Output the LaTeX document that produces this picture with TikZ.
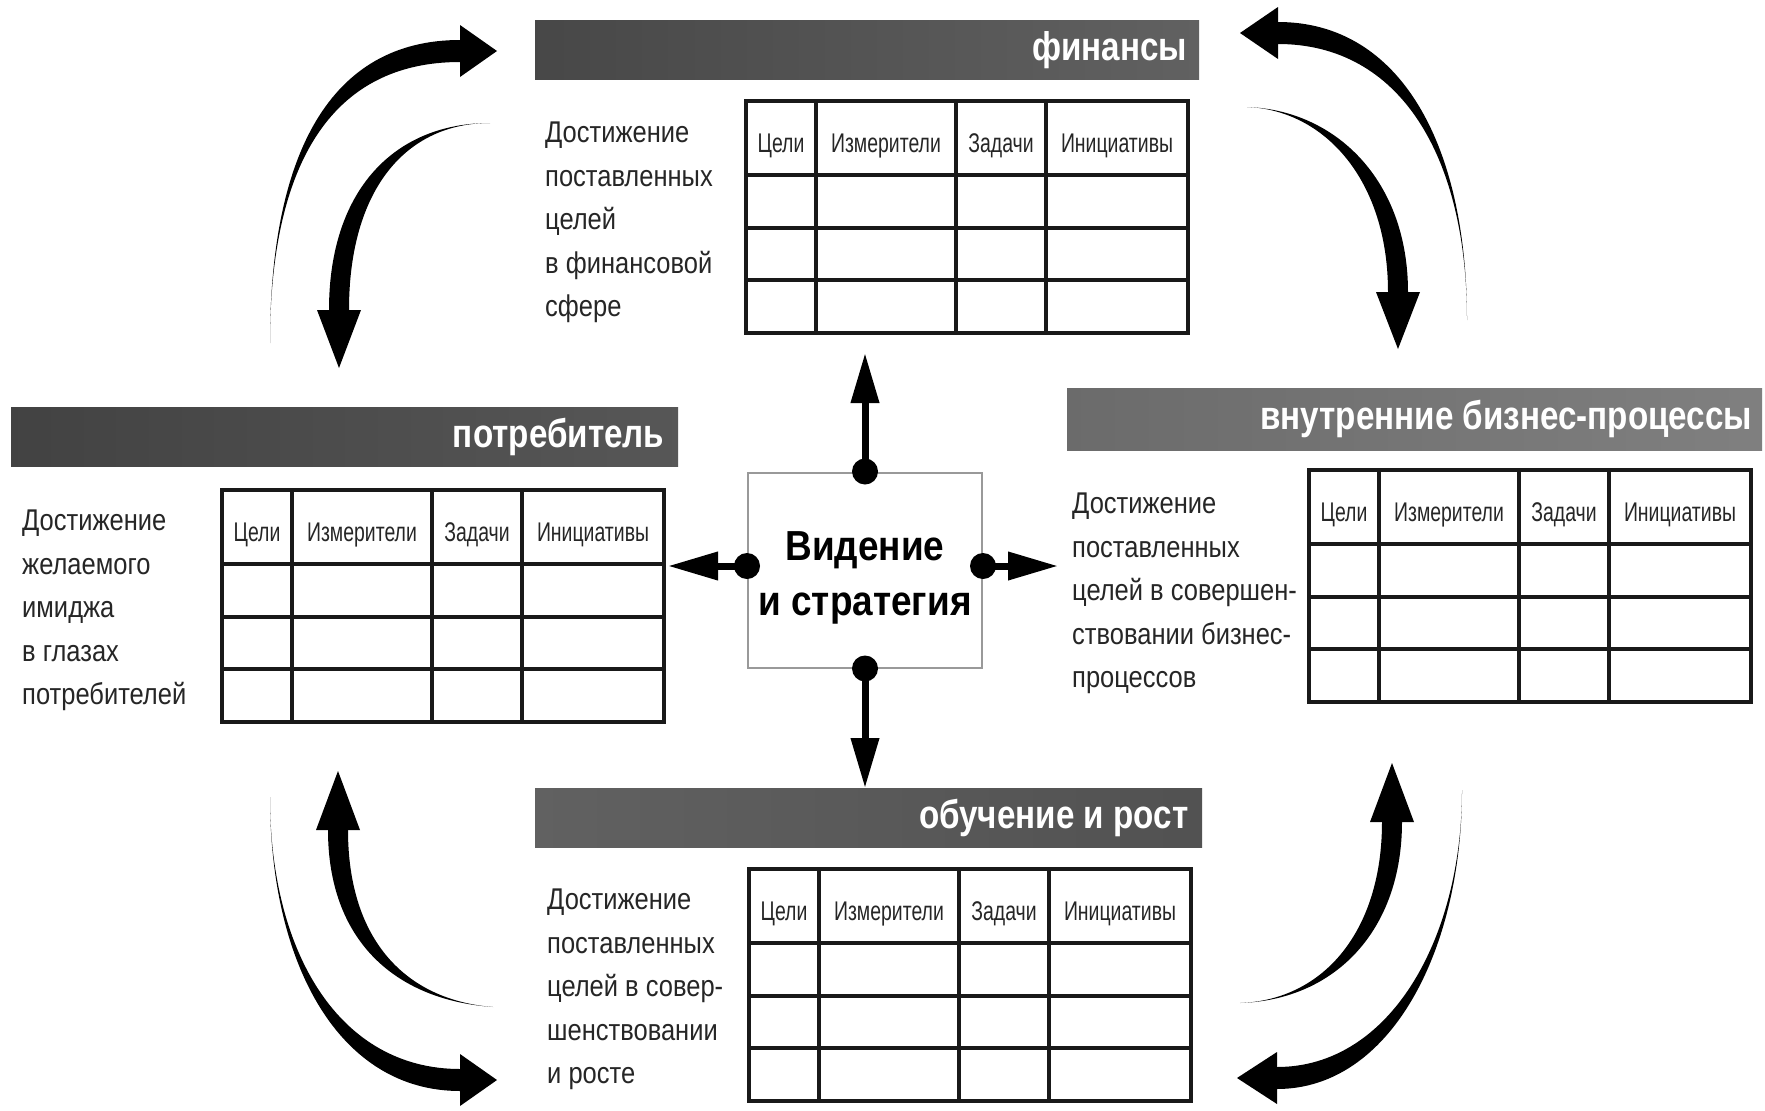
\documentclass[tikz,border=0pt]{standalone}
\usepackage{fontspec}
\setmainfont{Liberation Sans}
\newfontfamily\sidefont[FakeStretch=0.85]{Liberation Sans}
\newfontfamily\hdrfont[FakeStretch=0.72]{Liberation Sans}
\newfontfamily\titlefont[FakeStretch=0.83]{Liberation Sans}
\newfontfamily\visfont[FakeStretch=0.88]{Liberation Sans}
\usetikzlibrary{calc,arrows.meta}
\definecolor{inkgray}{HTML}{262626}
\tikzset{
  band/.style={draw=none,inner sep=0pt,anchor=north west,minimum height=59pt},
  bandtitle/.style={anchor=east,inner sep=0pt,text=white,font=\titlefont\bfseries\fontsize{40}{48}\selectfont},
  gridline/.style={line width=3.5pt,draw=black!90,line cap=rect},
  hdr/.style={inner sep=0pt,text=inkgray,font=\hdrfont\fontsize{27}{30}\selectfont},
  sidetext/.style={anchor=north west,inner sep=0pt,align=left,text=inkgray,font=\sidefont\fontsize{30}{43.5}\selectfont},
  visbox/.style={draw=black!40,line width=2pt,minimum width=234pt,minimum height=195pt,inner sep=0pt},
  cline/.style={line width=7pt,-{Triangle[length=50pt,width=27pt]}},
}
\newcommand{\bsctable}[3]{%
  \begin{scope}[shift={(#2,#3)}]
    \draw[gridline] (0,0) rectangle (442,232);
    \foreach \yy in {74,127,179} \draw[gridline] (0,\yy) -- (442,\yy);
    \foreach \xx in {70,210,300} \draw[gridline] (\xx,0) -- (\xx,232);
    \node[hdr] (#1-c1) at (35,45) {Цели};
    \node[hdr] (#1-c2) at (140,45) {Измерители};
    \node[hdr] (#1-c3) at (255,45) {Задачи};
    \node[hdr] (#1-c4) at (371,45) {Инициативы};
  \end{scope}}
\newcommand{\taperarrow}[7]{%
  \fill (#1) .. controls ($(#2)+0.55*(#5)$) and ($(#3)+(#5)$) .. ($(#4)+(#5)$) -- ($(#4)-(#5)$) .. controls ($(#3)-(#5)$) and ($(#2)-0.55*(#5)$) .. (#1) -- cycle;
  \fill ($(#4)+(#7)$) -- (#6) -- ($(#4)-(#7)$) -- cycle;}
\begin{document}
\begin{tikzpicture}[x=1pt,y=-1pt]
\fill[white] (0,0) rectangle (1765,1111);
\useasboundingbox (0,0) rectangle (1765,1111);

% bands
\node[band,minimum width=664pt,left color=black!72,right color=black!62] (finband) at (535,20) {};
\node[bandtitle] (fintitle) at ([xshift=-12pt]finband.east) {финансы};
\node[band,minimum width=667pt,left color=black!74,right color=black!66] (custband) at (11,407) {};
\node[bandtitle] (custtitle) at ([xshift=-14pt]custband.east) {потребитель};
\node[band,minimum width=695pt,minimum height=62pt,left color=black!58,right color=black!50] (intband) at (1067,388) {};
\node[bandtitle] (inttitle) at ([xshift=-10pt]intband.east) {внутренние бизнес-процессы};
\node[band,minimum width=667pt,left color=black!62,right color=black!68] (learnband) at (535,788) {};
\node[bandtitle] (learntitle) at ([xshift=-14pt]learnband.east) {обучение и рост};

% side texts
\node[sidetext] (fintext) at (545,122) {Достижение\\поставленных\\целей\\в финансовой\\сфере};
\node[sidetext] (custtext) at (22,510) {Достижение\\желаемого\\имиджа\\в глазах\\потребителей};
\node[sidetext] (inttext) at (1072,493) {Достижение\\поставленных\\целей в совершен-\\ствовании бизнес-\\процессов};
\node[sidetext] (learntext) at (547,889) {Достижение\\поставленных\\целей в совер-\\шенствовании\\и росте};

% tables
\bsctable{fintab}{746}{101}
\bsctable{custtab}{222}{490}
\bsctable{inttab}{1309}{470}
\bsctable{learntab}{749}{869}

% centre
\node[visbox] (vis) at (865,570) {};
\node[align=center,inner sep=0pt,font=\visfont\bfseries\fontsize{42}{55}\selectfont] (vistext) at (865,578) {Видение\\и стратегия};
\coordinate (topend) at (865,353);
\coordinate (botend) at (865,788);
\coordinate (leftend) at (668,566);
\coordinate (rightend) at (1058,566);
\coordinate (vn) at (vis.north);
\coordinate (vs) at (vis.south);
\coordinate (vw) at (vis.west |- 0,566);
\coordinate (ve) at (vis.east |- 0,566);
\draw[cline] (vn) -- (topend);
\draw[cline] (vs) -- (botend);
\draw[cline] (vw) -- (leftend);
\draw[cline] (ve) -- (rightend);
\fill (vn) circle (13);
\fill (vs) circle (13);
\fill (vw) circle (13);
\fill (ve) circle (13);

% curved arrows
\taperarrow{270,343}{270,160}{330,51}{460,51}{0,11}{497,51}{0,26}
\taperarrow{490,123}{400,123}{339,190}{339,310}{10,0}{339,368}{22,0}
\taperarrow{1467,320}{1467,150}{1400,33}{1278,33}{0,11}{1240,33}{0,26}
\taperarrow{1247,107}{1330,110}{1398,180}{1398,292}{10,0}{1398,349}{22,0}
\taperarrow{270,797}{270,960}{340,1080}{460,1080}{0,11}{497,1080}{0,26}
\taperarrow{493,1007}{400,1000}{338,940}{338,830}{10,0}{338,771}{22,0}
\taperarrow{1462,790}{1462,945}{1390,1078}{1277,1078}{0,11}{1237,1078}{0,26}
\taperarrow{1240,1003}{1330,1000}{1392,930}{1392,822}{10,0}{1392,763}{22,0}
\end{tikzpicture}
\end{document}
